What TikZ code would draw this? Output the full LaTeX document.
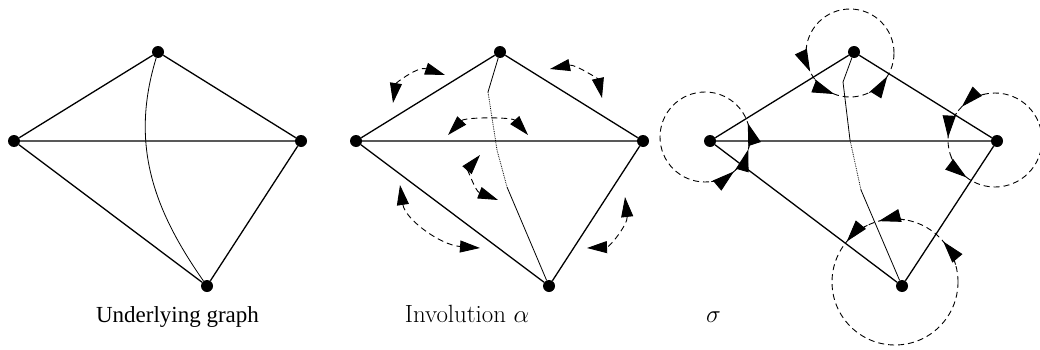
\documentclass[tikz,border=0pt]{standalone}
\usepackage{fontspec}
\newfontfamily\timesf{Liberation Serif}
\usetikzlibrary{arrows.meta}
\begin{document}
\begin{tikzpicture}[x=1pt,y=1pt,
  vtx/.style={circle,fill=black,inner sep=0pt,minimum size=12pt},
  edge/.style={line width=1.3pt},
  cedge/.style={line width=0.8pt},
  cdot/.style={line width=0.8pt,densely dotted},
  dart/.style={line width=0.9pt,dash pattern=on 6pt off 4pt},
  arr/.style={-{Triangle[length=22pt,width=13pt]}},
  darr/.style={{Triangle[length=20pt,width=12pt]}-{Triangle[length=20pt,width=12pt]}},
  lbl/.style={inner sep=0pt,anchor=base}]
\useasboundingbox (0,0) rectangle (1040,349);
% ---------- graph 1 ----------
\node[vtx] (T1) at (158,297) {};
\node[vtx] (L1) at (14,208) {};
\node[vtx] (R1) at (301,208) {};
\node[vtx] (B1) at (207,63) {};
\draw[edge] (L1) -- (T1) -- (R1) -- (B1) -- (L1) -- (R1);
\draw[cedge] (T1) to[out=253,in=125] (B1);
\node[lbl] (lab1) at (177.5,27) {\fontsize{23}{27}\timesf Underlying graph};
% ---------- graph 2 ----------
\node[vtx] (T2) at (500,297) {};
\node[vtx] (L2) at (356,208) {};
\node[vtx] (R2) at (643,208) {};
\node[vtx] (B2) at (549,63) {};
\draw[edge] (L2) -- (T2) -- (R2) -- (B2) -- (L2) -- (R2);
\coordinate (p2a) at (488,257);
\coordinate (p2b) at (497,199);
\coordinate (p2c) at (507,162);
\draw[cedge] (T2) -- (p2a);
\draw[cdot] (p2a) -- (p2b) -- (p2c);
\draw[cedge] (p2c) -- (B2);
% involution darts
\coordinate (a1) at (393,246); \coordinate (b1) at (445,274);
\coordinate (a2) at (550,280); \coordinate (b2) at (602,251);
\coordinate (a3) at (448,214); \coordinate (b3) at (528,214);
\coordinate (a4) at (480,194); \coordinate (b4) at (498,149);
\coordinate (a5) at (400,164); \coordinate (b5) at (480,101);
\coordinate (a6) at (625,152); \coordinate (b6) at (587,101);
\draw[dart,darr] (a1) .. controls (396,266) and (418,283) .. (b1);
\draw[dart,darr] (a2) .. controls (575,285) and (598,270) .. (b2);
\draw[dart,darr] (a3) .. controls (465,232) and (512,232) .. (b3);
\draw[dart,darr] (a4) .. controls (468,180) and (475,158) .. (b4);
\draw[dart,darr] (a5) .. controls (405,130) and (440,104) .. (b5);
\draw[dart,darr] (a6) .. controls (628,125) and (610,102) .. (b6);
\node[lbl] (lab2) at (467,27) {\fontsize{24.88}{29}\selectfont Involution $\alpha$};
% ---------- graph 3 ----------
\node[vtx] (T3) at (854,297) {};
\node[vtx] (L3) at (710,208) {};
\node[vtx] (R3) at (997,208) {};
\node[vtx] (B3) at (902,63) {};
\draw[edge] (L3) -- (T3) -- (R3) -- (B3) -- (L3) -- (R3);
\coordinate (p3a) at (843,267);
\coordinate (p3b) at (850,209);
\coordinate (p3c) at (861,159);
\draw[cedge] (T3) -- (p3a) -- (p3b);
\draw[cdot] (p3b) -- (p3c);
\draw[cedge] (p3c) -- (B3);
% rotation circles
\coordinate (cT) at (850,296);
\coordinate (cL) at (705,212);
\coordinate (cR) at (995,209);
\coordinate (cB) at (895,67);
\draw[dart] (cT) circle[radius=44pt];
\draw[dart] (cL) circle[radius=45pt];
\draw[dart] (cR) circle[radius=47pt];
\draw[dart] (cB) circle[radius=63pt];
\foreach \a in {205,249,328}
  \draw[dart,arr] ([shift={(\a-32:44)}]cT) arc[start angle=\a-32,end angle=\a,radius=44pt];
\foreach \a in {18,344,310}
  \draw[dart,arr] ([shift={(\a-32:45)}]cL) arc[start angle=\a-32,end angle=\a,radius=45pt];
\foreach \a in {135,177,233}
  \draw[dart,arr] ([shift={(\a-32:47)}]cR) arc[start angle=\a-32,end angle=\a,radius=47pt];
\foreach \a in {40,105,140}
  \draw[dart,arr] ([shift={(\a-24:63)}]cB) arc[start angle=\a-24,end angle=\a,radius=63pt];
\node[lbl,anchor=base west] (lab3) at (706,27) {\fontsize{24.88}{29}\selectfont $\sigma$};
\end{tikzpicture}
\end{document}
